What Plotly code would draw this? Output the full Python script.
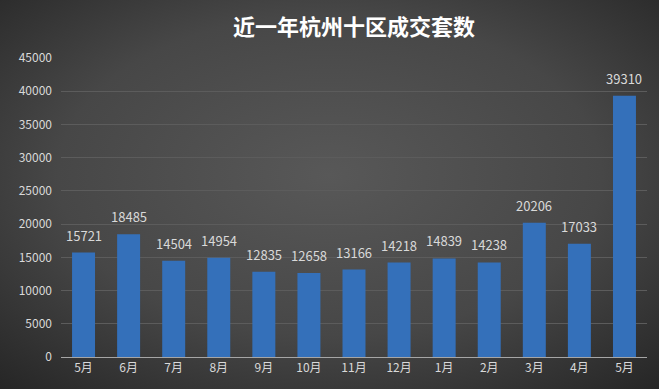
import base64
import plotly.graph_objects as go

months = ["5月", "6月", "7月", "8月", "9月", "10月", "11月", "12月", "1月", "2月", "3月", "4月", "5月"]
deals = [15721, 18485, 14504, 14954, 12835, 12658, 13166, 14218, 14839, 14238, 20206, 17033, 39310]
y_ticks = [0, 5000, 10000, 15000, 20000, 25000, 30000, 35000, 40000, 45000]

W, H = 659, 389
ML, MR, MT, MB = 61, 12, 58, 32
PW, PH = W - ML - MR, H - MT - MB

svg = (
    '<svg xmlns="http://www.w3.org/2000/svg" width="659" height="389" viewBox="0 0 659 389" preserveAspectRatio="none">'
    '<defs><radialGradient id="g" cx="50%" cy="45%" r="75%" gradientUnits="objectBoundingBox">'
    '<stop offset="0" stop-color="#585858"/><stop offset="0.55" stop-color="#474747"/>'
    '<stop offset="1" stop-color="#252525"/></radialGradient></defs>'
    '<rect width="659" height="389" fill="url(#g)"/></svg>'
)
bg_src = "data:image/svg+xml;base64," + base64.b64encode(svg.encode()).decode()

xs = list(range(len(months)))
font_fam = "Noto Sans CJK SC, Liberation Sans, sans-serif"

fig = go.Figure()
fig.add_trace(go.Bar(
    x=xs, y=deals,
    marker=dict(color="#3470ba", line=dict(width=0)),
    hoverinfo="x+y",
))

for xv, v in zip(xs, deals):
    fig.add_annotation(x=xv, y=v, text=str(v), showarrow=False, yanchor="bottom",
                       yshift=6, font=dict(size=13, color="#d9d9d9", family=font_fam))

fig.update_layout(
    width=W, height=H,
    margin=dict(l=ML, r=MR, t=MT, b=MB),
    paper_bgcolor="#3a3a3a",
    plot_bgcolor="rgba(0,0,0,0)",
    bargap=0.49,
    showlegend=False,
    title=dict(text="<b>近一年杭州十区成交套数</b>", x=0.5, xref="paper", xanchor="center",
               y=1 - 27 / H, yanchor="middle",
               font=dict(size=22, color="#ffffff", family=font_fam)),
    font=dict(family=font_fam, color="#d9d9d9", size=12),
    images=[dict(source=bg_src, xref="paper", yref="paper",
                 x=-ML / PW, y=1 + MT / PH, sizex=W / PW, sizey=H / PH,
                 xanchor="left", yanchor="top", sizing="stretch", layer="below")],
    xaxis=dict(range=[-0.5, len(months) - 0.5], tickvals=xs, ticktext=months,
               showgrid=False, zeroline=False, showline=True, linecolor="#a6a6a6", linewidth=1,
               ticks="", tickfont=dict(size=12, color="#d9d9d9"), fixedrange=True),
    yaxis=dict(range=[0, 45000], tickvals=y_ticks, ticktext=[str(t) for t in y_ticks],
               showgrid=True, gridcolor="#5c5c5c", gridwidth=1, zeroline=False, showline=False,
               ticks="", ticklabelstandoff=8, tickfont=dict(size=12, color="#d9d9d9"), fixedrange=True),
)

fig.write_html("out.html", config={"displayModeBar": False},
               post_script="document.body.style.margin='0';document.body.style.overflow='hidden';")
